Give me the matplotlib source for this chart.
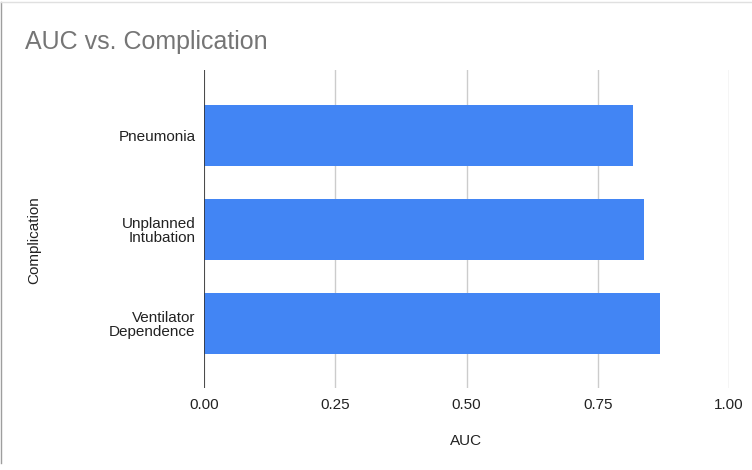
import matplotlib
matplotlib.use('Agg')
import matplotlib.pyplot as plt
from matplotlib.lines import Line2D

plt.rcParams['font.family'] = ['Liberation Sans', 'DejaVu Sans']

# 数据
complications = ['Pneumonia', 'Unplanned\nIntubation', 'Ventilator\nDependence']
auc_values = [0.817, 0.839, 0.868]
x_ticks = [0.0, 0.25, 0.5, 0.75, 1.0]
x_tick_labels = ['0.00', '0.25', '0.50', '0.75', '1.00']

fig = plt.figure(figsize=(7.52, 4.70), dpi=100)
ax = fig.add_axes([0.2713, 0.1745, 0.6981, 0.6765])

y_pos = list(range(len(complications)))
ax.barh(y_pos, auc_values, height=0.645, color='#4285F4', zorder=3)

ax.set_xlim(0, 1.0)
ax.set_ylim(2.68, -0.69)
ax.set_xticks(x_ticks)
ax.set_xticklabels(x_tick_labels)
ax.set_yticks(y_pos)
ax.set_yticklabels(complications, ha='right', multialignment='right',
                   linespacing=1.0)

# 网格线和零线
ax.grid(axis='x', color='#cccccc', linewidth=1, zorder=0)
ax.axvline(0, color='#333333', linewidth=1.2, zorder=4)
for s in ax.spines.values():
    s.set_visible(False)
ax.tick_params(axis='both', length=0, labelsize=11, colors='#222222')
ax.tick_params(axis='x', pad=7)
ax.tick_params(axis='y', pad=6)

ax.set_xlabel('AUC', fontsize=11, color='#222222', labelpad=16)
ax.set_ylabel('Complication', fontsize=11, color='#222222')
ax.yaxis.set_label_coords(-0.311, 0.465)

fig.text(25 / 752, 1 - 42 / 470, 'AUC vs. Complication', fontsize=18,
         color='#757575', va='center', ha='left')

# 外框
fig.add_artist(Line2D([1.5 / 752, 1.5 / 752], [1 - 2 / 470, 1 - 463 / 470],
                      color='#9e9e9e', linewidth=1))
fig.add_artist(Line2D([1.5 / 752, 1], [1 - 2 / 470, 1 - 2 / 470],
                      color='#e0e0e0', linewidth=1))

fig.savefig('out.png', dpi=100)
